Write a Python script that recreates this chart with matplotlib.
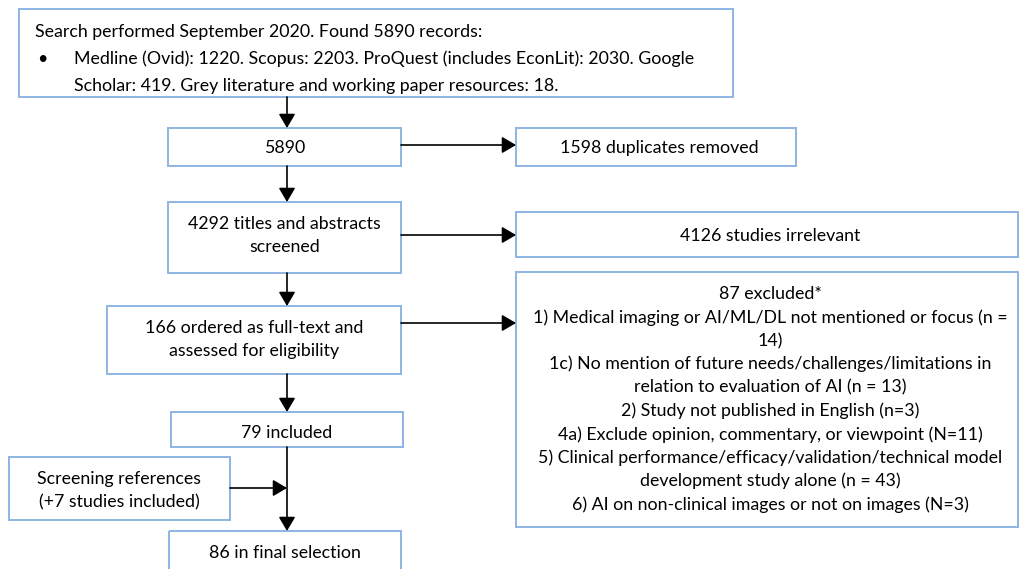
import matplotlib.pyplot as plt
from matplotlib.patches import Rectangle

plt.rcParams['font.family'] = ['Lato', 'DejaVu Sans']

# flow chart content
search_title = "Search performed September 2020. Found 5890 records:"
search_sources = ["Medline (Ovid): 1220. Scopus: 2203. ProQuest (includes EconLit): 2030. Google",
                  "Scholar: 419. Grey literature and working paper resources: 18."]
main_steps = [["5890"],
              ["4292 titles and abstracts", "screened"],
              ["166 ordered as full-text and", "assessed for eligibility"],
              ["79 included"],
              ["86 in final selection"]]
side_steps = [["1598 duplicates removed"],
              ["4126 studies irrelevant"],
              ["87 excluded*",
               "1) Medical imaging or AI/ML/DL not mentioned or focus (n =",
               "14)",
               "1c) No mention of future needs/challenges/limitations in",
               "relation to evaluation of AI (n = 13)",
               "2) Study not published in English (n=3)",
               "4a) Exclude opinion, commentary, or viewpoint (N=11)",
               "5) Clinical performance/efficacy/validation/technical model",
               "development study alone (n = 43)",
               "6) AI on non-clinical images or not on images (N=3)"]]
extra_source = ["Screening references", "(+7 studies included)"]

# layout in pixels (x0, y0, x1, y1), y grows downward
search_box = (19, 9, 733, 97)
main_boxes = [(168, 128, 401, 166), (168, 202, 401, 273), (107, 306, 401, 374),
              (171, 412, 403, 447), (169, 531, 401, 600)]
main_text_y = [147, 234.5, 338.5, 432, 552]
side_boxes = [(516, 128, 796, 166), (516, 212, 1018, 257), (516, 272, 1018, 527)]
side_text_y = [147, 235, 398.5]
ref_box = (9, 457, 230, 520)
ref_text_y = 490

EDGE = '#8EB4E3'
FS = 12.8
LINE = 23.4
BASE = 6

fig = plt.figure(figsize=(10.2, 5.69), dpi=100)
ax = fig.add_axes([0, 0, 1, 1])
ax.set_xlim(0, 1020)
ax.set_ylim(569, 0)
ax.axis('off')


def box(b):
    r = Rectangle((b[0], b[1]), b[2] - b[0], b[3] - b[1], fill=False,
                  edgecolor=EDGE, lw=1.4)
    ax.add_patch(r)
    return r


def lines_at(xc, yc, lines):
    n = len(lines)
    for i, s in enumerate(lines):
        y = yc + (i - (n - 1) / 2) * LINE
        ax.text(xc, y + BASE, s, ha='center', va='baseline', fontsize=FS, color='black')


def arrow(p0, p1):
    ax.annotate('', xy=p1, xytext=p0,
                arrowprops=dict(arrowstyle='-|>,head_length=0.85,head_width=0.5',
                                mutation_scale=10, lw=1.2, color='black',
                                shrinkA=0, shrinkB=0))


# search box, last line is cut by the border as in the original
r = box(search_box)
t = ax.text(35, 37, search_title, fontsize=FS, va='baseline')
t.set_clip_path(r)
ax.text(42, 63.5, "\u2022", fontsize=FS, va='baseline', ha='center')
for k, s in enumerate(search_sources):
    t = ax.text(74, 63.5 + k * 27, s, fontsize=FS, va='baseline')
    t.set_clip_path(r)

for b, txt, y in zip(main_boxes, main_steps, main_text_y):
    box(b)
    lines_at((b[0] + b[2]) / 2, y, txt)

for b, txt, y in zip(side_boxes, side_steps, side_text_y):
    box(b)
    lines_at((b[0] + b[2]) / 2 + 3, y, txt)

box(ref_box)
lines_at((ref_box[0] + ref_box[2]) / 2, ref_text_y, extra_source)

# arrows
xm = 287
arrow((xm, 97), (xm, 128))
arrow((xm, 166), (xm, 202))
arrow((xm, 273), (xm, 306))
arrow((xm, 374), (xm, 412))
arrow((xm, 447), (xm, 531))
arrow((401, 145), (516, 145))
arrow((401, 235), (516, 235))
arrow((401, 323), (516, 323))
arrow((230, 488), (xm, 488))

fig.savefig('out.png', dpi=100)
